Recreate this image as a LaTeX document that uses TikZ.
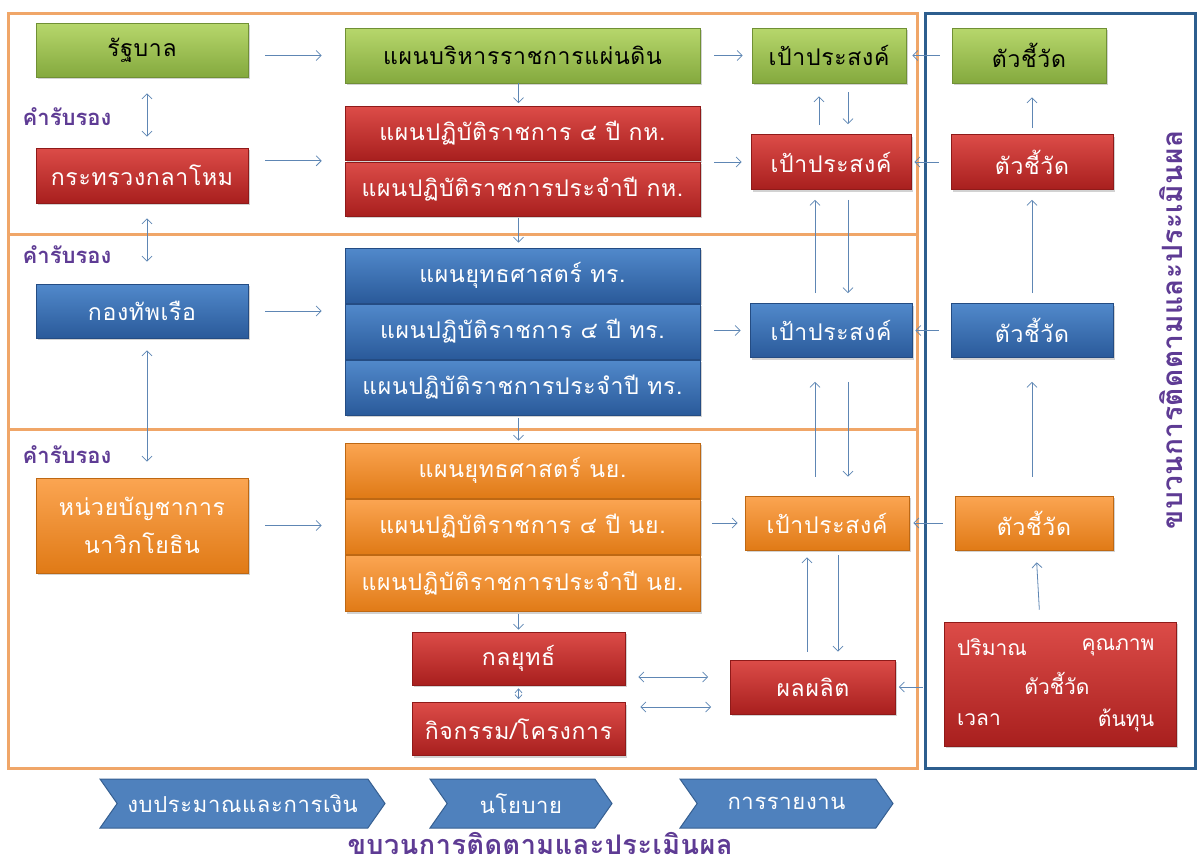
\documentclass[tikz,border=0pt]{standalone}
\usepackage{fontspec}
\setmainfont[Script=Thai]{Loma}
\usetikzlibrary{arrows.meta,shadows,shapes.symbols}
\definecolor{gTop}{HTML}{B7D76C}
\definecolor{gBot}{HTML}{84A93E}
\definecolor{rTop}{HTML}{DC4C48}
\definecolor{rBot}{HTML}{A81F1E}
\definecolor{bTop}{HTML}{5189CB}
\definecolor{bBot}{HTML}{2A5A9A}
\definecolor{oTop}{HTML}{FBA552}
\definecolor{oBot}{HTML}{E07A16}
\definecolor{arrowc}{HTML}{5E86B4}
\definecolor{purp}{HTML}{5E3B94}
\definecolor{oframe}{HTML}{F0A668}
\definecolor{bframe}{HTML}{2D5E8E}
\definecolor{chevc}{HTML}{4F81BD}
\definecolor{chevb}{HTML}{365F91}
\newcommand{\boxfont}{\fontsize{23}{27}\selectfont\addfontfeatures{LetterSpace=3}}
\begin{document}
\begin{tikzpicture}[x=1pt,y=-1pt,
  bx/.style={rectangle, inner sep=0pt, align=center,
    font=\boxfont, line width=0.6pt,
    drop shadow={shadow xshift=1.5pt, shadow yshift=-2pt, opacity=0.35}},
  gbox/.style={bx, top color=gTop, bottom color=gBot, draw=gBot!85!black, text=black},
  rbox/.style={bx, top color=rTop, bottom color=rBot, draw=rBot!85!black, text=white},
  bbox/.style={bx, top color=bTop, bottom color=bBot, draw=bBot!85!black, text=white},
  obox/.style={bx, top color=oTop, bottom color=oBot, draw=oBot!85!black, text=white},
  arr/.style={draw=arrowc, line width=0.8pt, -{Straight Barb[length=5pt,width=10pt]}},
  dbl/.style={draw=arrowc, line width=0.8pt, {Straight Barb[length=5pt,width=10pt]}-{Straight Barb[length=5pt,width=10pt]}},
  lbl/.style={text=purp, font=\fontsize{22}{26}\selectfont\bfseries},
  wtxt/.style={text=white, font=\fontsize{21}{25}\selectfont},
  chevron/.style={signal, signal to=east, signal from=west, signal pointer angle=110,
    fill=chevc, draw=chevb, line width=1pt, minimum height=49pt, inner sep=0pt,
    text=white, font=\fontsize{22}{26}\selectfont\addfontfeatures{LetterSpace=3}}
]
\useasboundingbox (0,0) rectangle (1198,865);
\fill[white] (0,0) rectangle (1198,865);

% frames
\draw[oframe, line width=3pt] (8,13) rectangle (917,768);
\draw[oframe, line width=3pt] (8,234) -- (917,234);
\draw[oframe, line width=3pt] (8,429) -- (917,429);
\draw[bframe, line width=3pt] (925,13) rectangle (1195,768);

% row 1
\node[gbox, minimum width=212pt, minimum height=54pt] (gov) at (142,50) {รัฐบาล};
\node[gbox, minimum width=355pt, minimum height=55pt] (planG) at (522.5,55.5) {แผนบริหารราชการแผ่นดิน};
\node[gbox, minimum width=154pt, minimum height=55pt] (goalG) at (829,55.5) {เป้าประสงค์};
\node[gbox, minimum width=154pt, minimum height=55pt] (kpiG) at (1029,55.5) {ตัวชี้วัด};

% row 2
\node[rbox, minimum width=212pt, minimum height=55pt] (ministry) at (142,175.5) {กระทรวงกลาโหม};
\node[rbox, minimum width=355pt, minimum height=54pt] (redPlan1) at (522.5,133.5) {แผนปฏิบัติราชการ ๔ ปี กห.};
\node[rbox, minimum width=355pt, minimum height=54pt] (redPlan2) at (522.5,189) {แผนปฏิบัติราชการประจำปี กห.};
\node[rbox, minimum width=160pt, minimum height=55pt] (goalR) at (831,162) {เป้าประสงค์};
\node[rbox, minimum width=162pt, minimum height=55pt] (kpiR) at (1032,162) {ตัวชี้วัด};

% row 3
\node[bbox, minimum width=212pt, minimum height=54pt] (navy) at (142,311) {กองทัพเรือ};
\node[bbox, minimum width=355pt, minimum height=55pt] (bluePlan1) at (522.5,275.5) {แผนยุทธศาสตร์ ทร.};
\node[bbox, minimum width=355pt, minimum height=55pt] (bluePlan2) at (522.5,331.5) {แผนปฏิบัติราชการ ๔ ปี ทร.};
\node[bbox, minimum width=355pt, minimum height=55pt] (bluePlan3) at (522.5,387.5) {แผนปฏิบัติราชการประจำปี ทร.};
\node[bbox, minimum width=162pt, minimum height=54pt] (goalB) at (831,330.5) {เป้าประสงค์};
\node[bbox, minimum width=162pt, minimum height=54pt] (kpiB) at (1032,330.5) {ตัวชี้วัด};

% row 4
\node[obox, minimum width=212pt, minimum height=95pt, font=\fontsize{23}{38}\selectfont\addfontfeatures{LetterSpace=3}] (marine) at (142,525.5) {หน่วยบัญชาการ\\นาวิกโยธิน};
\node[obox, minimum width=355pt, minimum height=55pt] (orangePlan1) at (522.5,470.5) {แผนยุทธศาสตร์ นย.};
\node[obox, minimum width=355pt, minimum height=55pt] (orangePlan2) at (522.5,526.5) {แผนปฏิบัติราชการ ๔ ปี นย.};
\node[obox, minimum width=355pt, minimum height=56pt] (orangePlan3) at (522.5,583.5) {แผนปฏิบัติราชการประจำปี นย.};
\node[obox, minimum width=164pt, minimum height=54pt] (goalO) at (827,523) {เป้าประสงค์};
\node[obox, minimum width=158pt, minimum height=54pt] (kpiO) at (1034,523) {ตัวชี้วัด};

% bottom
\node[rbox, minimum width=213pt, minimum height=53pt] (strategy) at (518.5,658.5) {กลยุทธ์};
\node[rbox, minimum width=213pt, minimum height=53pt] (activity) at (518.5,729) {กิจกรรม/โครงการ};
\node[rbox, minimum width=165pt, minimum height=54pt] (output) at (813,687) {ผลผลิต};
\node[rbox, minimum width=232pt, minimum height=124pt] (bigKpi) at (1060,684) {};
\node[wtxt] (q1) at (992,647) {ปริมาณ};
\node[wtxt] (q2) at (1118,647) {คุณภาพ};
\node[wtxt] (q3) at (1057,683) {ตัวชี้วัด};
\node[wtxt] (q4) at (979,720) {เวลา};
\node[wtxt] (q5) at (1126,720) {ต้นทุน};

% labels
\node[lbl] (c1) at (67,117) {คำรับรอง};
\node[lbl] (c2) at (67,255) {คำรับรอง};
\node[lbl] (c3) at (67,455) {คำรับรอง};
\node[text=purp, font=\fontsize{28}{32}\selectfont\bfseries\addfontfeatures{LetterSpace=2}, rotate=90] (vt) at (1171,330) {ขบวนการติดตามและประเมินผล};
\node[text=purp, font=\fontsize{27}{31}\selectfont\bfseries\addfontfeatures{LetterSpace=2}] (title) at (540,843) {ขบวนการติดตามและประเมินผล};

% chevrons
\node[chevron, minimum width=285pt] (ch1) at (242.5,803.5) {งบประมาณและการเงิน};
\node[chevron, minimum width=182pt] (ch2) at (521,803.5) {นโยบาย};
\node[chevron, minimum width=213pt] (ch3) at (786.5,803.5) {การรายงาน};

% left column arrows
\draw[arr, shorten <=17pt, shorten >=23pt] (gov.east |- planG.west) -- (planG.west);
\draw[arr, shorten <=17pt, shorten >=23pt] (ministry.east |- redPlan1.south west) -- (redPlan1.south west);
\draw[arr, shorten <=17pt, shorten >=23pt] (navy.east) -- (navy.east -| bluePlan2.west);
\draw[arr, shorten <=17pt, shorten >=23pt] (marine.east) -- (marine.east -| orangePlan2.west);
\draw[dbl, shorten <=16pt, shorten >=11pt] ([xshift=5pt]gov.south) -- ([xshift=5pt]ministry.north);
\draw[dbl, shorten <=15pt, shorten >=22pt] ([xshift=5pt]ministry.south) -- ([xshift=5pt]navy.north);
\draw[dbl, shorten <=12pt, shorten >=16pt] ([xshift=5pt]navy.south) -- ([xshift=5pt]marine.north);

% plan stack down arrows
\draw[arr, shorten >=3pt] ([xshift=-4pt]planG.south) -- ([xshift=-4pt]redPlan1.north);
\draw[arr, shorten <=2pt, shorten >=5pt] ([xshift=-4pt]redPlan2.south) -- ([xshift=-4pt]bluePlan1.north);
\draw[arr, shorten <=3pt, shorten >=2pt] ([xshift=-4pt]bluePlan3.south) -- ([xshift=-4pt]orangePlan1.north);
\draw[arr, shorten <=2pt, shorten >=2pt] (strategy.north |- orangePlan3.south) -- (strategy.north);
\draw[draw=arrowc, line width=0.7pt, {Straight Barb[length=4pt,width=7pt]}-{Straight Barb[length=4pt,width=7pt]}, shorten <=3pt, shorten >=3pt] (strategy.south) -- (activity.north);

% plans to goals
\draw[arr, shorten <=14pt, shorten >=9pt] (planG.east) -- (goalG.west);
\draw[arr, shorten <=14pt, shorten >=9pt] (redPlan1.east |- goalR.west) -- (goalR.west);
\draw[arr, shorten <=14pt, shorten >=9pt] (bluePlan2.east |- goalB.west) -- (goalB.west);
\draw[arr, shorten <=12pt, shorten >=7pt] (orangePlan2.east |- goalO.west) -- (goalO.west);

% kpi to goals
\draw[arr, shorten <=12pt, shorten >=6pt] (kpiG.west) -- (goalG.east);
\draw[arr, shorten <=12pt, shorten >=3pt] (kpiR.west) -- (goalR.east);
\draw[arr, shorten <=12pt, shorten >=3pt] (kpiB.west) -- (goalB.east);
\draw[arr, shorten <=12pt, shorten >=4pt] (kpiO.west) -- (goalO.east);

% goal vertical arrows
\draw[arr, shorten <=9pt, shorten >=13pt] ([xshift=-12pt]goalR.north) -- ([xshift=-12pt]goalR.north |- goalG.south);
\draw[arr, shorten <=9pt, shorten >=10pt] ([xshift=17pt]goalR.north |- goalG.south) -- ([xshift=17pt]goalR.north);
\draw[arr, shorten <=10pt, shorten >=10pt] ([xshift=-16pt]goalB.north) -- ([xshift=-16pt]goalB.north |- goalR.south);
\draw[arr, shorten <=10pt, shorten >=10pt] ([xshift=17pt]goalB.north |- goalR.south) -- ([xshift=17pt]goalB.north);
\draw[arr, shorten <=19pt, shorten >=24pt] ([xshift=-16pt]goalB.south |- goalO.north) -- ([xshift=-16pt]goalB.south);
\draw[arr, shorten <=24pt, shorten >=19pt] ([xshift=17pt]goalB.south) -- ([xshift=17pt]goalB.south |- goalO.north);
\draw[arr, shorten <=8pt, shorten >=7pt] ([xshift=-6pt]output.north) -- ([xshift=-6pt]output.north |- goalO.south);
\draw[arr, shorten <=5pt, shorten >=8pt] ([xshift=25pt]output.north |- goalO.south) -- ([xshift=25pt]output.north);

% kpi vertical arrows
\draw[arr, shorten <=6pt, shorten >=14pt] (kpiR.north) -- (kpiR.north |- kpiG.south);
\draw[arr, shorten <=10pt, shorten >=10pt] (kpiB.north) -- (kpiR.south);
\draw[arr, shorten <=19pt, shorten >=24pt] (kpiB.south |- kpiO.north) -- (kpiB.south);
\draw[arr, shorten <=12pt, shorten >=12pt] ([xshift=-20pt]bigKpi.north) -- ([xshift=2pt]kpiO.south);
\draw[arr, shorten <=21pt, shorten >=3pt] (bigKpi.west |- output.east) -- (output.east);

% strategy / activity to output
\coordinate (s1) at ([yshift=-18.5pt]strategy.east);
\coordinate (s2) at ([yshift=22pt]activity.east);
\draw[dbl, shorten <=13pt, shorten >=22pt] (s1) -- (s1 -| output.west);
\draw[dbl, shorten <=15pt, shorten >=19pt] (s2) -- (s2 -| output.west);
\end{tikzpicture}
\end{document}
